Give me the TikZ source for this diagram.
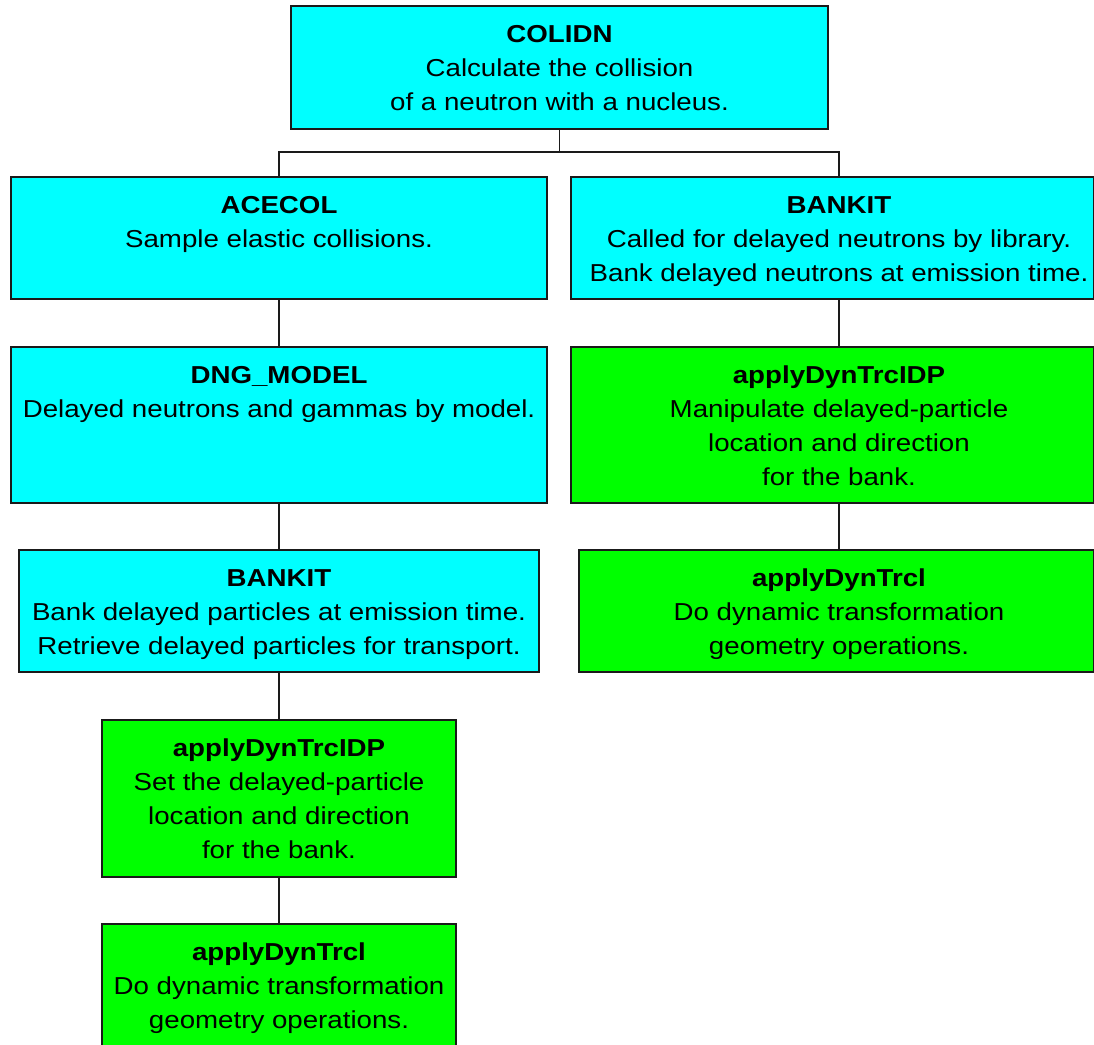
\documentclass[tikz,border=0pt]{standalone}
\usepackage{fontspec}
\setmainfont{Liberation Sans}[FakeStretch=1.13]
\definecolor{boxcyan}{HTML}{00FFFF}
\definecolor{boxgreen}{HTML}{00FF00}
\definecolor{edgecol}{HTML}{1A1A1A}
\newcommand\bxt[4]{\parbox[c][#2pt][t]{#1pt}{\vspace*{12.7pt}\centering\hspace*{#3pt}\begin{tabular}[t]{@{}c@{}}#4\end{tabular}\par}}
\begin{document}
\begin{tikzpicture}[x=1pt,y=-1pt,
  box/.style={draw=edgecol,line width=2pt,inner sep=0pt,anchor=north west,font=\fontsize{24.5}{34}\selectfont},
  cy/.style={box,fill=boxcyan},
  gr/.style={box,fill=boxgreen},
  link/.style={draw=edgecol,line width=1.6pt}]
\fill[white] (0,0) rectangle (1094,1044);
\useasboundingbox (0,0) rectangle (1094,1044);
\node[cy] (colidn) at (290,5) {\bxt{537}{123}{0}{\textbf{COLIDN}\\Calculate the collision\\of a neutron with a nucleus.}};
\node[cy] (acecol) at (10,176) {\bxt{536}{122}{0}{\textbf{ACECOL}\\Sample elastic collisions.}};
\node[cy] (bankR) at (570,176) {\bxt{523}{122}{13}{\textbf{BANKIT}\\Called for delayed neutrons by library.\\Bank delayed neutrons at emission time.}};
\node[cy] (dng) at (10,346) {\bxt{536}{156}{0}{\textbf{DNG\_MODEL}\\Delayed neutrons and gammas by model.}};
\node[gr] (idpR) at (570,346) {\bxt{523}{156}{13}{\textbf{applyDynTrcIDP}\\Manipulate delayed-particle\\location and direction\\for the bank.}};
\node[cy] (bankL) at (18,549) {\bxt{520}{122}{0}{\textbf{BANKIT}\\Bank delayed particles at emission time.\\Retrieve delayed particles for transport.}};
\node[gr] (dynR) at (578,549) {\bxt{515}{122}{5}{\textbf{applyDynTrcl}\\Do dynamic transformation\\geometry operations.}};
\node[gr] (idpL) at (101,719) {\bxt{354}{157}{0}{\textbf{applyDynTrcIDP}\\Set the delayed-particle\\location and direction\\for the bank.}};
\node[gr] (dynL) at (101,923) {\bxt{354}{126}{0}{\textbf{applyDynTrcl}\\Do dynamic transformation\\geometry operations.}};
\path (0,152) coordinate (hy);
\coordinate (j) at (colidn.south |- hy);
\draw[link] (colidn.south) -- (j);
\draw[link] (acecol.north) |- (j) -| ([xshift=6.5pt]bankR.north);
\draw[link] (acecol.south) -- (dng.north);
\draw[link] (dng.south) -- (bankL.north);
\draw[link] (bankL.south) -- (idpL.north);
\draw[link] (idpL.south) -- (dynL.north);
\draw[link] ([xshift=6.5pt]bankR.south) -- ([xshift=6.5pt]idpR.north);
\draw[link] ([xshift=6.5pt]idpR.south) -- ([xshift=2.5pt]dynR.north);
\end{tikzpicture}
\end{document}
